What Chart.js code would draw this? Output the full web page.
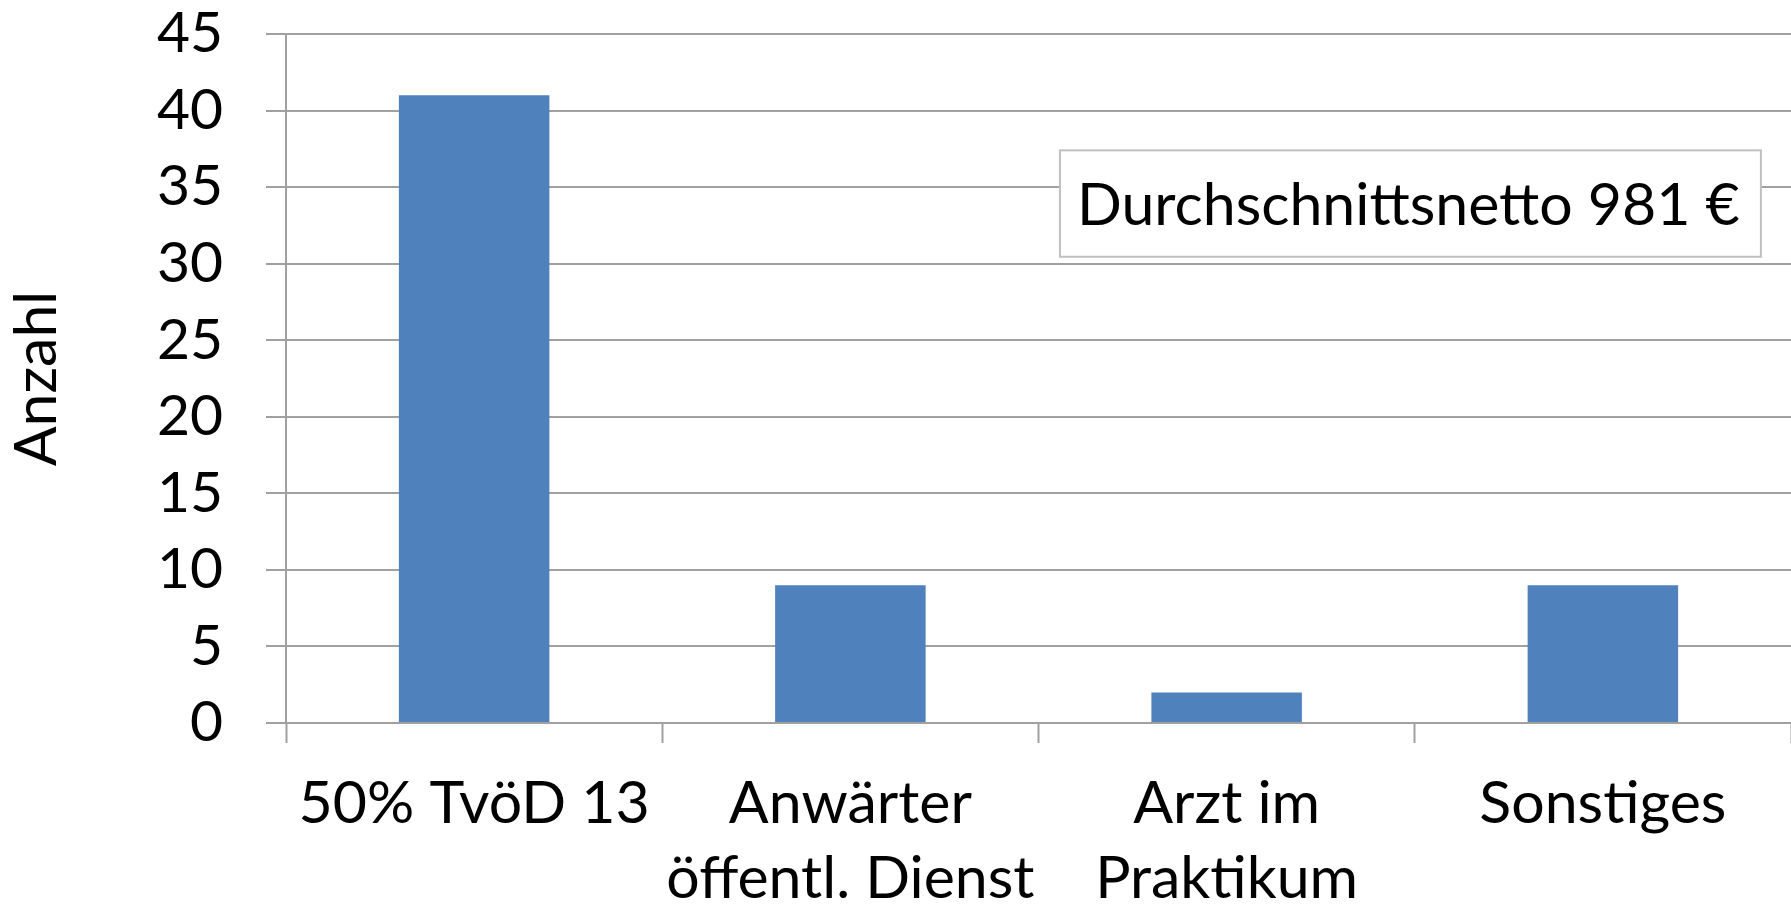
<!DOCTYPE html>
<html>
<head>
<meta charset="utf-8">
<script src="https://cdn.jsdelivr.net/npm/chart.js@4"></script>
<style>
  html, body { margin: 0; padding: 0; background: #fff; }
  #wrap { width: 1791px; height: 909px; }
</style>
</head>
<body>
<div id="wrap"><canvas id="chart" width="1791" height="909"></canvas></div>
<script>
const categories = [
  '50% TvöD 13',
  ['Anwärter', 'öffentl. Dienst'],
  ['Arzt im', 'Praktikum'],
  'Sonstiges'
];
const counts = [41, 9, 2, 9];
const yTicks = [0, 5, 10, 15, 20, 25, 30, 35, 40, 45];
const yTitle = 'Anzahl';
const noteText = 'Durchschnittsnetto 981 €';

const FONT = 'Lato';
const gridColor = '#a0a0a0';

// text box in the upper right of the plot (category-index / value units)
const noteBox = {
  id: 'noteBox',
  afterDraw(chart) {
    const { ctx } = chart;
    const x = chart.scales.x;
    const y = chart.scales.y;
    const x1 = x.getPixelForValue(1.557);
    const x2 = x.getPixelForValue(3.42);
    const y1 = y.getPixelForValue(37.4);
    const y2 = y.getPixelForValue(30.45);
    ctx.save();
    ctx.fillStyle = '#fff';
    ctx.fillRect(x1, y1, x2 - x1, y2 - y1);
    ctx.strokeStyle = '#c0c0c0';
    ctx.lineWidth = 2;
    ctx.strokeRect(x1, y1, x2 - x1, y2 - y1);
    ctx.fillStyle = '#000';
    ctx.font = '59px ' + FONT;
    ctx.textAlign = 'center';
    ctx.textBaseline = 'middle';
    ctx.fillText(noteText, (x1 + x2) / 2 - 2, (y1 + y2) / 2 + 2);
    ctx.restore();
  }
};

const ctx = document.getElementById('chart').getContext('2d');

new Chart(ctx, {
  type: 'bar',
  data: {
    labels: categories,
    datasets: [{
      data: counts,
      backgroundColor: '#4f81bd',
      borderWidth: 0,
      categoryPercentage: 1,
      barPercentage: 0.4
    }]
  },
  options: {
    responsive: false,
    animation: false,
    events: [],
    layout: { padding: { top: 34, left: 0, right: 0, bottom: 0 } },
    plugins: {
      legend: { display: false },
      tooltip: { enabled: false }
    },
    scales: {
      x: {
        offset: true,
        grid: {
          offset: true,
          drawOnChartArea: false,
          drawTicks: true,
          tickLength: 20,
          tickWidth: 2,
          tickColor: gridColor
        },
        border: { display: true, color: gridColor, width: 2 },
        ticks: {
          color: '#000',
          font: { family: FONT, size: 59, lineHeight: 1.27 },
          padding: 24,
          maxRotation: 0,
          autoSkip: false
        },
        afterFit(scale) {
          scale.height = 909 - 723;
          scale.paddingLeft = 0;
          scale.paddingRight = 0;
        }
      },
      y: {
        min: 0,
        max: 45,
        afterBuildTicks(scale) { scale.ticks = yTicks.map(v => ({ value: v })); },
        grid: {
          color: gridColor,
          lineWidth: 2,
          drawTicks: true,
          tickLength: 20
        },
        border: { display: true, color: gridColor, width: 2 },
        ticks: {
          color: '#000',
          font: { family: FONT, size: 57 },
          padding: 43
        },
        title: {
          display: true,
          text: yTitle,
          color: '#000',
          font: { family: FONT, size: 59 },
          padding: { top: 2, bottom: 0 }
        },
        afterFit(scale) {
          scale.width = 286;
          scale.paddingTop = 0;
          scale.paddingBottom = 0;
        }
      }
    }
  },
  plugins: [noteBox]
});
</script>
</body>
</html>
